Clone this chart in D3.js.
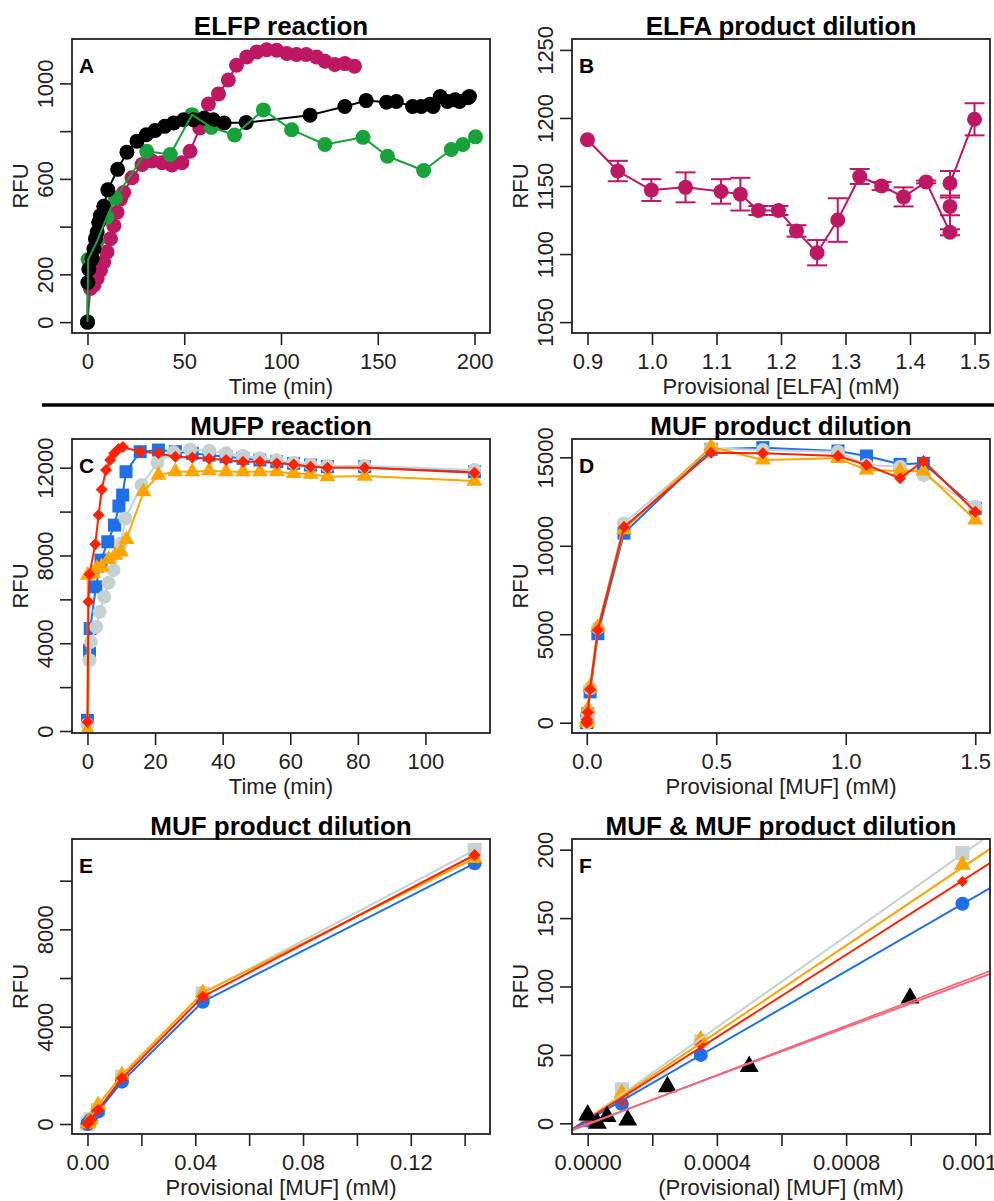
<!DOCTYPE html>
<html>
<head>
<meta charset="utf-8">
<script src="https://cdnjs.cloudflare.com/ajax/libs/d3/7.8.5/d3.min.js"></script>
<style>
body { margin: 0; background: #fff; }
svg { display: block; font-family: "Liberation Sans", Arial, Helvetica, sans-serif; }
</style>
</head>
<body>
<div id="chart"></div>
<script>
// Panel A: ELFP reaction (time in min, RFU)
var elfpBlackTime = [0, 0.2, 0.7, 2.4, 3.3, 4.1, 5, 5.8, 6.7, 8.4, 10.5, 15.6, 20.4, 25.6, 30.4, 35, 39.9, 44.5, 49.7, 54.8, 60.3, 65, 70.6, 82, 115, 133, 144, 154.5, 159.6, 168, 172.5, 177, 178.6, 182.3, 186, 190, 192.3, 196.6, 197.4];
var elfpBlackRFU = [0, 166, 222, 266, 307, 349, 377, 418, 446, 485, 554, 640, 712, 758, 785, 803, 820, 834, 848, 848, 855, 848, 834, 836, 867, 903, 928, 921, 924, 903, 903, 913, 903, 945, 924, 931, 924, 940, 945];
var elfpMagentaTime = [0, 1.5, 3.3, 5, 6.7, 8.4, 10.1, 11.9, 13.6, 15.3, 17, 18.7, 23, 28.2, 33.3, 38.5, 43.6, 48.8, 53, 58, 62.5, 67.7, 72.8, 77, 82.3, 87.5, 92.6, 97.8, 103, 108, 113, 118.3, 122.7, 127.8, 133, 138];
var elfpMagentaRFU = [0, 141, 155, 183, 217, 252, 294, 349, 404, 460, 515, 543, 605, 660, 675, 668, 658, 668, 716, 813, 914, 956, 1014, 1076, 1111, 1132, 1141, 1139, 1125, 1121, 1121, 1111, 1093, 1079, 1083, 1072];
var elfpGreenTime = [0, 0.3, 5, 10, 14.4, 30.6, 42.8, 54, 64, 76, 90.9, 105.5, 122.7, 142.4, 155, 173.7, 188, 194, 200.5];
var elfpGreenRFU = [0, 262, 340, 440, 520, 716, 702, 869, 816, 784, 889, 806, 744, 774, 695, 635, 723, 744, 776];

// Panel B: ELFA product dilution (mean and error)
var elfaConc = [0.9, 0.947, 0.999, 1.052, 1.107, 1.137, 1.165, 1.196, 1.224, 1.256, 1.288, 1.322, 1.356, 1.39, 1.425, 1.462, 1.462, 1.462, 1.5];
var elfaRFU = [1184, 1161, 1147, 1149, 1146, 1144, 1132, 1132, 1117, 1101, 1125, 1157, 1150, 1142, 1153, 1116, 1135, 1152, 1199];
var elfaErr = [0, 7.5, 8, 11, 9, 12, 3.3, 3.3, 4.2, 9.3, 16, 5.5, 3, 7, 1, 2.2, 6.5, 9, 11.8];

// Panel C: MUFP reaction
var mufpBlueTime = [0, 0.6, 0.8, 2.5, 4, 6, 8, 9.3, 10.4, 11.4, 15.6, 21, 26, 31, 36, 41, 46, 51, 56, 61, 66, 71, 82, 114.5];
var mufpBlueRFU = [487, 3680, 4669, 6570, 7787, 8624, 9384, 10251, 10753, 11817, 12730, 12806, 12730, 12654, 12578, 12502, 12426, 12350, 12274, 12198, 12122, 12046, 12046, 11817];
var mufpGrayTime = [0, 0.6, 1, 2.6, 3.6, 5, 6.2, 7.7, 9.9, 11.2, 16, 20.7, 25.5, 30.4, 36, 41, 46, 51, 56, 61, 66, 71, 82, 114.5];
var mufpGrayRFU = [300, 3224, 4061, 4745, 5430, 6114, 6753, 7331, 8548, 9688, 11209, 12228, 12700, 12836, 12775, 12654, 12532, 12426, 12350, 12228, 12152, 12076, 12076, 11893];
var mufpOrangeTime = [0, 0.1, 1.6, 2.8, 4.2, 6.2, 8.2, 9.9, 11.5, 16.6, 21, 26, 31, 36, 41, 46, 51, 56, 61, 66, 71, 82, 114.5];
var mufpOrangeRFU = [30, 7100, 7178, 7407, 7483, 7817, 8015, 8167, 8730, 10905, 11665, 11817, 11817, 11863, 11817, 11817, 11817, 11817, 11741, 11711, 11589, 11620, 11392];
var mufpRedTime = [0, 0.3, 0.6, 2.3, 3.3, 4.2, 5.5, 6.7, 7.9, 9.2, 10.5, 15.6, 21, 26, 31, 36, 41, 46, 51, 56, 61, 66, 71, 82, 114.5];
var mufpRedRFU = [410, 5886, 7148, 8517, 9840, 11011, 11893, 12350, 12654, 12850, 12940, 12730, 12654, 12502, 12471, 12410, 12350, 12274, 12274, 12198, 12152, 12046, 12000, 12000, 11772];

// Panels D, E, F: MUF product dilution series
var mufConc = [0, 0.000106, 0.00035, 0.00116, 0.0039, 0.0128, 0.0428, 0.1437, 0.48, 0.68, 0.97, 1.08, 1.21, 1.30, 1.50];
var mufBlue = [2, 14.1, 50, 160.5, 507, 1740, 5027, 10712, 15452, 15546, 15357, 15075, 14603, 14660, 12116];
var mufGray = [3, 24.9, 60, 197.6, 575, 1945, 5370, 11260, 15508, 15414, 15320, 14566, 14471, 14000, 12210];
var mufOrange = [3, 22, 61, 189, 781, 2014, 5397, 10918, 15602, 14848, 14942, 14283, 14226, 14226, 11457];
var mufRed = [2, 15.9, 57.3, 176.8, 575, 1877, 5233, 11055, 15263, 15225, 15075, 14566, 13812, 14792, 11928];

// Panel F: MUF alone (black triangles) and fitted lines
var mufOnlyConc = [0, 0.00003, 0.00006, 0.000124, 0.000247, 0.0005, 0.000998];
var mufOnlyRFU = [6.1, 0, 4.9, 2.4, 26.8, 41.5, 91.5];
var fitIntercept = [3.6, 3.2, 2.8, 2.1, -0.8, -0.4];
var fitSlope = [166500, 158450, 150500, 136400, 90000, 88000];

// colours
var colMagenta = "#BE1863", colGreen = "#18A23A", colBlue = "#1F6FE6",
    colGray = "#C4D2D2", colOrange = "#FFA500", colRed = "#FF2200", colPink = "#F0687A";

var W = 994, H = 1201;
var svg = d3.select("#chart").append("svg").attr("width", W).attr("height", H);

var cols = [{x0: 72, x1: 490}, {x0: 572, x1: 990}];
var rows = [{y0: 39, y1: 333}, {y0: 439, y1: 733}, {y0: 839, y1: 1134}];

// Creates a panel with scales and a clipped plot group
var makePanel = function(id, col, row, xDomain, yDomain) {
    var c = cols[col], r = rows[row];
    var g = svg.append("g").attr("class", "panel-" + id);
    g.append("clipPath").attr("id", "clip-" + id)
        .append("rect")
        .attr("x", c.x0).attr("y", r.y0)
        .attr("width", c.x1 - c.x0).attr("height", r.y1 - r.y0);
    return {
        g: g,
        c: c,
        r: r,
        x: d3.scaleLinear().domain(xDomain).range([c.x0, c.x1]),
        y: d3.scaleLinear().domain(yDomain).range([r.y1, r.y0]),
        plot: g.append("g").attr("clip-path", "url(#clip-" + id + ")")
    };
};

var symbolPath = function(shape, size) {
    if (shape == "circle") return d3.symbol().type(d3.symbolCircle).size(Math.PI * size * size / 4)();
    if (shape == "square") return d3.symbol().type(d3.symbolSquare).size(size * size)();
    if (shape == "diamond") return d3.symbol().type(d3.symbolSquare).size(size * size / 2)();
    return d3.symbol().type(d3.symbolTriangle).size(Math.sqrt(3) / 4 * size * size)();
};

var pairs = function(xs, ys) {
    return xs.map(function(d, i) { return [d, ys[i]]; });
};

var drawLine = function(p, xs, ys, color) {
    p.plot.append("path").datum(pairs(xs, ys))
        .attr("fill", "none")
        .attr("stroke", color)
        .attr("stroke-width", 2)
        .attr("stroke-linejoin", "round")
        .attr("d", d3.line().x(function(d) { return p.x(d[0]); }).y(function(d) { return p.y(d[1]); }));
};

var drawPoints = function(p, xs, ys, color, shape, size) {
    p.plot.selectAll(null).data(pairs(xs, ys)).enter().append("path")
        .attr("transform", function(d) {
            return "translate(" + p.x(d[0]) + "," + p.y(d[1]) + ")" + (shape == "diamond" ? " rotate(45)" : "");
        })
        .attr("d", symbolPath(shape, size))
        .attr("fill", color);
};

// line then points, like type="o"
var series = function(p, xs, ys, color, shape, size) {
    drawLine(p, xs, ys, color);
    drawPoints(p, xs, ys, color, shape, size);
};

var labelled = function(list, fmt) {
    return function(d) {
        var hit = list.some(function(v) { return Math.abs(v - d) < 1e-9; });
        return hit ? fmt(d) : "";
    };
};

// Box, axes, titles
var decorate = function(p, o) {
    var cx = (p.c.x0 + p.c.x1) / 2, cy = (p.r.y0 + p.r.y1) / 2;
    p.g.append("rect")
        .attr("x", p.c.x0).attr("y", p.r.y0)
        .attr("width", p.c.x1 - p.c.x0).attr("height", p.r.y1 - p.r.y0)
        .attr("fill", "none").attr("stroke", "#222").attr("stroke-width", 1.8);

    var xa = p.g.append("g")
        .attr("transform", "translate(0," + p.r.y1 + ")")
        .call(d3.axisBottom(p.x).tickValues(o.xTicks).tickSize(12).tickFormat(labelled(o.xShown, o.xFmt)));
    var ya = p.g.append("g")
        .attr("transform", "translate(" + p.c.x0 + ",0)")
        .call(d3.axisLeft(p.y).tickValues(o.yTicks).tickSize(12).tickFormat(labelled(o.yShown, o.yFmt)));
    [xa, ya].forEach(function(a) {
        a.attr("font-size", 22).attr("font-family", null);
        a.select(".domain").remove();
        a.selectAll("line").attr("stroke", "#222").attr("stroke-width", 1.6);
        a.selectAll("text").attr("fill", "#222").attr("dy", null);
    });
    xa.selectAll("text").attr("y", 36);
    ya.selectAll("text")
        .attr("x", 0).attr("y", -19)
        .attr("text-anchor", "middle")
        .attr("transform", "rotate(-90)");

    p.g.append("text")
        .attr("x", cx).attr("y", p.r.y0 - 4)
        .attr("text-anchor", "middle")
        .attr("font-size", 26).attr("font-weight", "bold")
        .text(o.title);
    p.g.append("text")
        .attr("x", cx).attr("y", p.r.y1 + 61)
        .attr("text-anchor", "middle")
        .attr("font-size", 22).attr("fill", "#222")
        .text(o.xLabel);
    p.g.append("text")
        .attr("transform", "translate(" + (p.c.x0 - 44) + "," + cy + ") rotate(-90)")
        .attr("text-anchor", "middle")
        .attr("font-size", 22).attr("fill", "#222")
        .text("RFU");
    p.g.append("text")
        .attr("x", p.c.x0 + 7).attr("y", p.r.y0 + 34)
        .attr("font-size", 21).attr("font-weight", "bold")
        .text(o.letter);
};

var fmtInt = d3.format("d");

// ---- A ----
var pA = makePanel("A", 0, 0, [-8, 208], [-45.6, 1186]);
series(pA, elfpMagentaTime, elfpMagentaRFU, colMagenta, "circle", 15);
drawPoints(pA, elfpGreenTime, elfpGreenRFU, colGreen, "circle", 15);
series(pA, elfpBlackTime, elfpBlackRFU, "#000", "circle", 15);
drawLine(pA, elfpGreenTime, elfpGreenRFU, colGreen);
decorate(pA, {
    title: "ELFP reaction", xLabel: "Time (min)", letter: "A",
    xTicks: [0, 50, 100, 150, 200], xShown: [0, 50, 100, 150, 200], xFmt: fmtInt,
    yTicks: [0, 200, 400, 600, 800, 1000], yShown: [0, 200, 600, 1000], yFmt: fmtInt
});

// ---- B ----
var pB = makePanel("B", 1, 0, [0.876, 1.524], [1042, 1258]);
drawLine(pB, elfaConc, elfaRFU, colMagenta);
elfaConc.forEach(function(d, i) {
    if (elfaErr[i] <= 0) return;
    var xp = pB.x(d), lo = pB.y(elfaRFU[i] - elfaErr[i]), hi = pB.y(elfaRFU[i] + elfaErr[i]);
    var eb = pB.plot.append("g").attr("stroke", colMagenta).attr("stroke-width", 2);
    eb.append("line").attr("x1", xp).attr("x2", xp).attr("y1", lo).attr("y2", hi);
    eb.append("line").attr("x1", xp - 10).attr("x2", xp + 10).attr("y1", lo).attr("y2", lo);
    eb.append("line").attr("x1", xp - 10).attr("x2", xp + 10).attr("y1", hi).attr("y2", hi);
});
drawPoints(pB, elfaConc, elfaRFU, colMagenta, "circle", 15);
decorate(pB, {
    title: "ELFA product dilution", xLabel: "Provisional [ELFA] (mM)", letter: "B",
    xTicks: [0.9, 1.0, 1.1, 1.2, 1.3, 1.4, 1.5], xShown: [0.9, 1.0, 1.1, 1.2, 1.3, 1.4, 1.5], xFmt: d3.format(".1f"),
    yTicks: [1050, 1100, 1150, 1200, 1250], yShown: [1050, 1100, 1150, 1200, 1250], yFmt: fmtInt
});

// divider between ELFP and MUFP rows
svg.append("line")
    .attr("x1", 42).attr("x2", W)
    .attr("y1", 405).attr("y2", 405)
    .attr("stroke", "#000").attr("stroke-width", 3.5);

// ---- C ----
var pC = makePanel("C", 0, 1, [-4.58, 119.1], [-91, 13309]);
series(pC, mufpBlueTime, mufpBlueRFU, colBlue, "square", 13);
series(pC, mufpGrayTime, mufpGrayRFU, colGray, "circle", 14);
series(pC, mufpOrangeTime, mufpOrangeRFU, colOrange, "triangle", 16);
series(pC, mufpRedTime, mufpRedRFU, colRed, "diamond", 12);
decorate(pC, {
    title: "MUFP reaction", xLabel: "Time (min)", letter: "C",
    xTicks: [0, 20, 40, 60, 80, 100], xShown: [0, 20, 40, 60, 80, 100], xFmt: fmtInt,
    yTicks: [0, 2000, 4000, 6000, 8000, 10000, 12000], yShown: [0, 4000, 8000, 12000], yFmt: fmtInt
});

// ---- D ----
var pD = makePanel("D", 1, 1, [-0.057, 1.557], [-583, 16035]);
series(pD, mufConc, mufBlue, colBlue, "square", 13);
series(pD, mufConc, mufGray, colGray, "circle", 14);
series(pD, mufConc, mufOrange, colOrange, "triangle", 16);
series(pD, mufConc, mufRed, colRed, "diamond", 12);
decorate(pD, {
    title: "MUF product dilution", xLabel: "Provisional [MUF] (mM)", letter: "D",
    xTicks: [0, 0.5, 1.0, 1.5], xShown: [0, 0.5, 1.0, 1.5], xFmt: d3.format(".1f"),
    yTicks: [0, 5000, 10000, 15000], yShown: [0, 5000, 10000, 15000], yFmt: fmtInt
});

// ---- E ----
var nE = 8;
var pE = makePanel("E", 0, 2, [-0.00575, 0.1494], [-411, 11713]);
series(pE, mufConc.slice(0, nE), mufGray.slice(0, nE), colGray, "square", 14);
series(pE, mufConc.slice(0, nE), mufBlue.slice(0, nE), colBlue, "circle", 14);
series(pE, mufConc.slice(0, nE), mufOrange.slice(0, nE), colOrange, "triangle", 16);
series(pE, mufConc.slice(0, nE), mufRed.slice(0, nE), colRed, "diamond", 12);
decorate(pE, {
    title: "MUF product dilution", xLabel: "Provisional [MUF] (mM)", letter: "E",
    xTicks: [0, 0.02, 0.04, 0.06, 0.08, 0.10, 0.12, 0.14], xShown: [0, 0.04, 0.08, 0.12], xFmt: d3.format(".2f"),
    yTicks: [0, 2000, 4000, 6000, 8000, 10000], yShown: [0, 4000, 8000], yFmt: fmtInt
});

// ---- F ----
var nF = 4;
var pF = makePanel("F", 1, 2, [-0.0000485, 0.0012454], [-7.8, 207.8]);
drawPoints(pF, mufConc.slice(0, nF), mufGray.slice(0, nF), colGray, "square", 14);
drawPoints(pF, mufConc.slice(0, nF), mufBlue.slice(0, nF), colBlue, "circle", 14);
drawPoints(pF, mufConc.slice(0, nF), mufOrange.slice(0, nF), colOrange, "triangle", 17);
drawPoints(pF, mufConc.slice(0, nF), mufRed.slice(0, nF), colRed, "diamond", 11);
var xEnds = pF.x.domain();
var fitLine = function(i, color, width) {
    pF.plot.append("line")
        .attr("x1", pF.x(xEnds[0])).attr("x2", pF.x(xEnds[1]))
        .attr("y1", pF.y(fitIntercept[i] + fitSlope[i] * xEnds[0]))
        .attr("y2", pF.y(fitIntercept[i] + fitSlope[i] * xEnds[1]))
        .attr("stroke", color).attr("stroke-width", width);
};
[colGray, colOrange, colRed, colBlue].forEach(function(col, i) { fitLine(i, col, 2); });
drawPoints(pF, mufOnlyConc, mufOnlyRFU, "#000", "triangle", 19);
fitLine(4, colPink, 1.8);
fitLine(5, colPink, 1.8);
decorate(pF, {
    title: "MUF & MUF product dilution", xLabel: "(Provisional) [MUF] (mM)", letter: "F",
    xTicks: [0, 0.0002, 0.0004, 0.0006, 0.0008, 0.0010, 0.0012], xShown: [0, 0.0004, 0.0008, 0.0012], xFmt: d3.format(".4f"),
    yTicks: [0, 50, 100, 150, 200], yShown: [0, 50, 100, 150, 200], yFmt: fmtInt
});
</script>
</body>
</html>
